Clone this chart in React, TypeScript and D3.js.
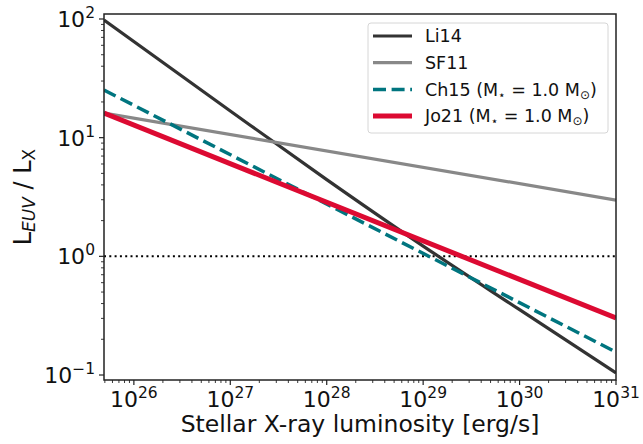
import React from "react";
import * as d3 from "d3";

const xEnds = [4.9e25, 1e31];
const li14X = [4.9e25, 1e27, 1e28, 1e29, 1e30, 1e31];
const li14 = [98, 16.8, 4.43, 1.22, 0.355, 0.104];
const sf11 = [16.1, 2.98];
const ch15 = [25.2, 0.156];
const jo21 = [16.1, 0.302];
const xTickExps = [26, 27, 28, 29, 30, 31];
const yTickExps = [-1, 0, 1, 2];
const seriesNames = ["Li14", "SF11", "Ch15", "Jo21"];

const W = 643, H = 444;
const L = 104, R = 616, T = 14, B = 380;
const FONT = "'DejaVu Sans', sans-serif";

export default function App() {
  const x = d3.scaleLog().domain([xEnds[0], 1e31]).range([L, R]);
  const y = d3.scaleLog().domain([Math.pow(10, -1.0421), Math.pow(10, 2.0421)]).range([B, T]);
  const line = d3.line<[number, number]>().x(d => x(d[0])).y(d => y(d[1])).curve(d3.curveMonotoneX);
  const pts = (xs: number[], v: number[]) => xs.map((xv, i) => [xv, v[i]] as [number, number]);

  const series = [
    { name: seriesNames[0], xs: li14X, vals: li14, color: "#333333", w: 3.2, dash: "" },
    { name: seriesNames[1], xs: xEnds, vals: sf11, color: "#888888", w: 3.2, dash: "" },
    { name: seriesNames[2], xs: xEnds, vals: ch15, color: "#00757f", w: 3.5, dash: "13,5.6" },
    { name: seriesNames[3], xs: xEnds, vals: jo21, color: "#dc0a32", w: 5, dash: "" },
  ];

  const xMinor: number[] = [];
  for (let e = 25; e <= 30; e++) for (let m = 2; m <= 9; m++) {
    const v = m * Math.pow(10, e);
    if (v >= xEnds[0] && v <= 1e31) xMinor.push(v);
  }
  const yMinor: number[] = [];
  for (let e = -2; e <= 2; e++) for (let m = 2; m <= 9; m++) {
    const v = m * Math.pow(10, e);
    if (v >= y.domain()[0] && v <= y.domain()[1]) yMinor.push(v);
  }

  const legendRows = [36, 62.7, 89.5, 116];
  const TF = 22;
  const SF = 15.5;

  return (
    <svg width={W} height={H} style={{ position: "absolute", left: 0, top: 0, background: "#fff" }} fontFamily={FONT}>
      <defs>
        <clipPath id="plot"><rect x={L} y={T} width={R - L} height={B - T} /></clipPath>
      </defs>
      <rect x={0} y={0} width={W} height={H} fill="#fff" />
      <g clipPath="url(#plot)">
        <line x1={L} x2={R} y1={y(1)} y2={y(1)} stroke="#000" strokeWidth={2} strokeDasharray="2,3.3" />
        {series.map(s => (
          <path key={s.name} d={line(pts(s.xs, s.vals)) || ""} fill="none" stroke={s.color} strokeWidth={s.w} strokeDasharray={s.dash || undefined} />
        ))}
      </g>
      <rect x={L} y={T} width={R - L} height={B - T} fill="none" stroke="#222" strokeWidth={1.5} />
      {xTickExps.map(e => (
        <g key={"xt" + e}>
          <line x1={x(Math.pow(10, e))} x2={x(Math.pow(10, e))} y1={B} y2={B + 5} stroke="#222" strokeWidth={1.2} />
          <text x={x(Math.pow(10, e))} y={B + 26.5} fontSize={TF} textAnchor="middle" fill="#111">
            10<tspan fontSize={SF} dy={-9}>{e}</tspan>
          </text>
        </g>
      ))}
      {xMinor.map((v, i) => (
        <line key={"xm" + i} x1={x(v)} x2={x(v)} y1={B} y2={B + 3} stroke="#222" strokeWidth={0.9} />
      ))}
      {yTickExps.map(e => (
        <g key={"yt" + e}>
          <line x1={L} x2={L - 5} y1={y(Math.pow(10, e))} y2={y(Math.pow(10, e))} stroke="#222" strokeWidth={1.2} />
          <text x={L - 9} y={y(Math.pow(10, e)) + 8} fontSize={TF} textAnchor="end" fill="#111">
            10<tspan fontSize={SF} dy={-9}>{e < 0 ? "\u2212" + Math.abs(e) : e}</tspan>
          </text>
        </g>
      ))}
      {yMinor.map((v, i) => (
        <line key={"ym" + i} x1={L} x2={L - 3} y1={y(v)} y2={y(v)} stroke="#222" strokeWidth={0.9} />
      ))}
      <text x={(L + R) / 2} y={431.5} fontSize={23.5} textAnchor="middle" fill="#111">Stellar X-ray luminosity [erg/s]</text>
      <text transform={`translate(31,${(T + B) / 2}) rotate(-90)`} fontSize={24} textAnchor="middle" fill="#111">
        L<tspan fontSize={17} fontStyle="italic" dy={4}>EUV</tspan><tspan dy={-4}> / L</tspan><tspan fontSize={17} dy={4}>X</tspan>
      </text>
      <rect x={368} y={23} width={240} height={110} rx={3} fill="#fff" fillOpacity={0.8} stroke="#d6d6d6" strokeWidth={1} />
      {series.map((s, i) => (
        <g key={"lg" + s.name}>
          <line x1={373} x2={412} y1={legendRows[i]} y2={legendRows[i]} stroke={s.color} strokeWidth={s.w} strokeDasharray={s.dash || undefined} />
          <text x={425} y={legendRows[i] + 6} fontSize={17.5} fill="#111">
            {i < 2 ? s.name : (
              <>
                {s.name} (M<tspan fontSize={12} dy={3}>{"\u22C6"}</tspan><tspan dy={-3}> = 1.0 M</tspan><tspan fontSize={12} dy={3}>{"\u2299"}</tspan><tspan dy={-3}>)</tspan>
              </>
            )}
          </text>
        </g>
      ))}
    </svg>
  );
}
